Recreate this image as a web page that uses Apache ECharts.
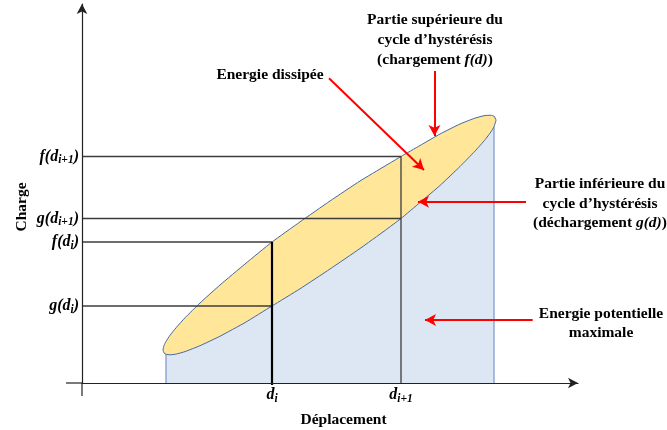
<!DOCTYPE html>
<html>
<head>
<meta charset="utf-8">
<script src="https://cdn.jsdelivr.net/npm/echarts@6.0.0/dist/echarts.min.js"></script>
<style>html,body{margin:0;padding:0;background:#fff}#chart{width:667px;height:430px}</style>
</head>
<body>
<div id="chart"></div>
<script>
const FONT = '"Liberation Serif", "Times New Roman", serif';

// Displacement positions marked on the x axis and their labels (base, subscript)
const dValues = [190, 319];
const dLabels = [['d', 'i'], ['d', 'i+1']];

// Charge values marked on the y axis and their labels (function, subscript)
const yTickValues = [77, 141, 164.5, 226.5];
const yTickLabels = [['g', 'i'], ['f', 'i'], ['g', 'i+1'], ['f', 'i+1']];

// Loading f(d) and unloading g(d) at d_i and d_{i+1}
const fAtD = [141, 226.5];
const gAtD = [77, 164.5];

// Hysteresis loop
const loopD  = [81, 82, 84, 88, 94, 103, 118, 138, 163, 190, 218, 248, 278, 303, 319, 338, 358, 378, 393, 403, 409, 412, 414];
const upperF = [33.1, 37.5, 41.6, 47.7, 55.2, 65.2, 80.0, 98.0, 119.0, 141.0, 161.1, 182.0, 202.0, 217.0, 226.5, 237.5, 249.0, 259.0, 264.9, 267.5, 267.7, 266.8, 262.9];
const lowerG = [33.1, 30.1, 28.7, 28.2, 28.9, 31.4, 37.3, 46.8, 60.4, 77.0, 94.2, 114.0, 134.5, 152.5, 164.5, 180.5, 197.5, 216.5, 231.9, 243.2, 251.2, 256.3, 262.9];

// Axis lines continue slightly past the origin
const axisOvershoot = {x: -16, y: -13};

// Red annotation arrows [from, to] in chart units
const arrows = [
  [[247, 304.7], [342, 213]],
  [[352.5, 312], [352.5, 247]],
  [[444, 181.3], [336, 181.3]],
  [[450.7, 63], [343, 63]]
];

const chart = echarts.init(document.getElementById('chart'), null, {renderer: 'canvas'});

const labRich = {
  n: {fontFamily: FONT, fontWeight: 'bold', fontStyle: 'italic', fontSize: 16, color: '#000'},
  s: {fontFamily: FONT, fontWeight: 'bold', fontStyle: 'italic', fontSize: 11.5, color: '#000', padding: [8, 0, 0, 0]}
};

const blueStart = 2, blueEnd = loopD.length - 2;
const blueData = [];
for (let i = blueStart; i <= blueEnd; i++) blueData.push([loopD[i], lowerG[i]]);

const AXIS = {color: '#222', width: 1.2};
const guideSeries = [];
const GUIDE = {color: '#3c3c3c', width: 1.3};
for (let k = 0; k < dValues.length; k++) {
  guideSeries.push({type: 'line', z: 5, silent: true, symbol: 'none', lineStyle: GUIDE,
    data: [[0, fAtD[k]], [dValues[k], fAtD[k]]]});
  guideSeries.push({type: 'line', z: 5, silent: true, symbol: 'none', lineStyle: GUIDE,
    data: [[0, gAtD[k]], [dValues[k], gAtD[k]]]});
  guideSeries.push({type: 'line', z: 5, silent: true, symbol: 'none', clip: false,
    lineStyle: k === 0 ? {color: '#000', width: 2.2} : GUIDE,
    data: [[dValues[k], k === 0 ? 0 : 0], [dValues[k], fAtD[k]]]});
}

const option = {
  animation: false,
  grid: {left: 82, right: 89, top: 4, bottom: 47, containLabel: false},
  xAxis: {
    type: 'value', min: 0, max: 496, z: 10,
    axisLine: {onZero: false, symbol: ['none', 'arrow'], symbolSize: [8, 10], lineStyle: AXIS},
    axisTick: {show: false}, splitLine: {show: false},
    axisLabel: {
      customValues: dValues, margin: 2, rich: labRich,
      formatter: v => { const i = dValues.indexOf(v); return i < 0 ? '' : '{n|' + dLabels[i][0] + '}{s|' + dLabels[i][1] + '}'; }
    }
  },
  yAxis: {
    type: 'value', min: 0, max: 379, z: 10,
    axisLine: {onZero: false, symbol: ['none', 'arrow'], symbolSize: [8, 10], lineStyle: AXIS},
    axisTick: {show: false}, splitLine: {show: false},
    axisLabel: {
      customValues: yTickValues, margin: 3, rich: labRich,
      formatter: v => { const i = yTickValues.indexOf(v); return i < 0 ? '' : '{n|' + yTickLabels[i][0] + '(d}{s|' + yTickLabels[i][1] + '}{n|)}'; }
    }
  },
  series: [
    {type: 'line', z: 1, silent: true, symbol: 'none', data: blueData,
      lineStyle: {width: 0}, areaStyle: {color: '#dde7f4', opacity: 1, origin: 'start'}},
    {type: 'line', z: 2, silent: true, symbol: 'none', lineStyle: {color: '#8aa3d0', width: 1.4},
      data: [[loopD[blueStart], 0], [loopD[blueStart], lowerG[blueStart]]]},
    {type: 'line', z: 2, silent: true, symbol: 'none', lineStyle: {color: '#8aa3d0', width: 1.4},
      data: [[loopD[blueEnd], 0], [loopD[blueEnd], upperF[blueEnd]]]},
    {type: 'custom', z: 3, silent: true, data: [[0, 0]],
      renderItem: (params, api) => {
        const pts = [];
        for (let i = 0; i < loopD.length; i++) pts.push(api.coord([loopD[i], upperF[i]]));
        for (let i = loopD.length - 2; i >= 1; i--) pts.push(api.coord([loopD[i], lowerG[i]]));
        return {type: 'polygon', shape: {points: pts, smooth: 0.15},
          style: {fill: '#ffe699', stroke: '#44689e', lineWidth: 1}};
      }},
    ...guideSeries,
    // axis extensions past the origin and the d_i stem below the axis
    {type: 'custom', z: 9, silent: true, clip: false, data: [[0, 0]],
      renderItem: (params, api) => {
        const o = api.coord([0, 0]);
        const ex = api.coord([axisOvershoot.x, 0]);
        const ey = api.coord([0, axisOvershoot.y]);
        const d0 = api.coord([dValues[0], 0]);
        return {type: 'group', children: [
          {type: 'line', shape: {x1: ex[0], y1: ex[1], x2: o[0], y2: o[1]}, style: {stroke: AXIS.color, lineWidth: AXIS.width}},
          {type: 'line', shape: {x1: ey[0], y1: ey[1], x2: o[0], y2: o[1]}, style: {stroke: AXIS.color, lineWidth: AXIS.width}},
          {type: 'line', shape: {x1: d0[0], y1: d0[1] + 2, x2: d0[0], y2: d0[1]}, style: {stroke: '#000', lineWidth: 2.2}}
        ]};
      }},
    {type: 'line', z: 6, silent: true, symbol: 'none', data: [],
      markLine: {silent: true, symbol: ['none', 'arrow'], symbolSize: [9, 11], animation: false,
        label: {show: false}, lineStyle: {color: '#ff0000', width: 2, type: 'solid'},
        data: arrows.map(a => [{coord: a[0]}, {coord: a[1]}])}}
  ],
  graphic: [
    {type: 'text', x: 270, y: 75, style: {text: 'Energie dissipée', font: 'bold 15.5px ' + FONT, fill: '#000', align: 'center', verticalAlign: 'middle'}},
    {type: 'text', x: 435, y: 39.5, style: {
      text: 'Partie supérieure du\ncycle d\u2019hystérésis\n(chargement {i|f(d)})',
      font: 'bold 15.5px ' + FONT, fill: '#000', align: 'center', verticalAlign: 'middle', lineHeight: 20,
      rich: {i: {fontFamily: FONT, fontWeight: 'bold', fontStyle: 'italic', fontSize: 15.5, lineHeight: 20}}}},
    {type: 'text', x: 600, y: 203.5, style: {
      text: 'Partie inférieure du\ncycle d\u2019hystérésis\n(déchargement {i|g(d)})',
      font: 'bold 15.5px ' + FONT, fill: '#000', align: 'center', verticalAlign: 'middle', lineHeight: 19.7,
      rich: {i: {fontFamily: FONT, fontWeight: 'bold', fontStyle: 'italic', fontSize: 15.5, lineHeight: 19.7}}}},
    {type: 'text', x: 601, y: 323, style: {
      text: 'Energie potentielle\nmaximale', font: 'bold 15.5px ' + FONT, fill: '#000', align: 'center', verticalAlign: 'middle', lineHeight: 19}},
    {type: 'text', x: 22, y: 207, rotation: Math.PI / 2, style: {
      text: 'Charge', font: 'bold 15.5px ' + FONT, fill: '#000', align: 'center', verticalAlign: 'middle'}},
    {type: 'text', x: 343.5, y: 420, style: {
      text: 'Déplacement', font: 'bold 15.5px ' + FONT, fill: '#000', align: 'center', verticalAlign: 'middle'}}
  ]
};
chart.setOption(option);
</script>
</body>
</html>
